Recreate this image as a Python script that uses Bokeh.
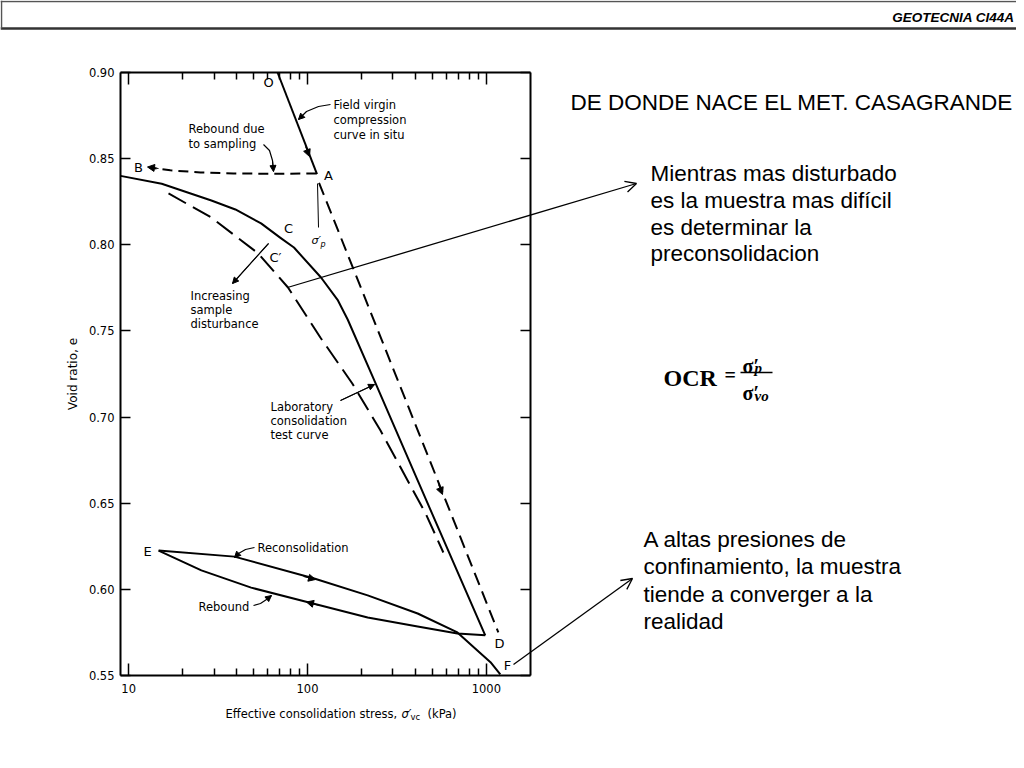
import math
from bokeh.plotting import figure
from bokeh.models import (Label, Arrow, NormalHead, OpenHead, LogAxis, LinearAxis,
                          Range1d, FixedTicker, NumeralTickFormatter, CustomJSTickFormatter)
from bokeh.embed import file_html
from bokeh.resources import INLINE

# ---------------- data ----------------
field_x = [68, 113]                 # field virgin compression curve in situ (O -> A)
field_y = [0.900, 0.841]
field_ext_x = [116, 1167]           # field curve extension (dashed, A -> D)
field_ext_y = [0.836, 0.575]
sampling_x = [112, 64.5, 38.5, 25.2, 17.1, 13.2]   # rebound due to sampling (A -> B)
sampling_y = [0.8414, 0.8412, 0.8414, 0.8420, 0.8432, 0.8448]
lab_x = [9.0, 15.3, 29, 39.5, 55, 70.6, 84, 119, 148, 168, 241, 413, 986]  # laboratory curve
lab_y = [0.8400, 0.8354, 0.8257, 0.8205, 0.8124, 0.8040, 0.7984, 0.7810, 0.7677, 0.7565,
         0.7193, 0.6632, 0.5733]
dist_x = [16.7, 29, 53, 77.8, 118, 178, 256, 363, 458, 575]  # increasing sample disturbance (C')
dist_y = [0.8298, 0.8158, 0.7950, 0.7752, 0.7462, 0.7195, 0.6922, 0.6632, 0.6440, 0.6214]
rebound_x = [986, 689, 413, 217, 102, 48.4, 25.5, 14.7]        # rebound D -> E
rebound_y = [0.5733, 0.5744, 0.5785, 0.5837, 0.5924, 0.6010, 0.6110, 0.6225]
recon_x = [14.7, 39, 109, 217, 413, 689, 891, 1055, 1197]      # reconsolidation E -> F
recon_y = [0.6225, 0.6190, 0.6063, 0.5965, 0.5860, 0.5750, 0.5645, 0.5577, 0.5506]

y_ticks = [0.55, 0.60, 0.65, 0.70, 0.75, 0.80, 0.85, 0.90]
x_major_ticks = [10, 100, 1000]
x_minor_ticks = [20, 30, 40, 50, 60, 70, 80, 90, 200, 300, 400, 500, 600, 700, 800, 900]

X_START, X_END = 9.0, 1766.0
Y_START, Y_END = 0.55, 0.90

# ---------------- layout: picture pixels of the chart box ----------------
W, H = 1016, 760
FL, FR, FT, FB = 120, 530, 72, 675


def dx(px):
    lo, hi = math.log10(X_START), math.log10(X_END)
    return 10 ** (lo + (px - FL) / (FR - FL) * (hi - lo))


def dy(py):
    return Y_END - (py - FT) / (FB - FT) * (Y_END - Y_START)


p = figure(width=W, height=H, x_axis_type="log", title=None,
           x_range=Range1d(dx(0), dx(W)), y_range=Range1d(dy(H), dy(0)),
           x_axis_location=None, y_axis_location=None,
           output_backend="svg", toolbar_location=None,
           min_border=0, min_border_left=0, min_border_right=0,
           min_border_top=0, min_border_bottom=0)
p.grid.visible = False
p.outline_line_color = None
p.background_fill_color = "white"
p.border_fill_color = "white"

CHART_FONT = "DejaVu Sans"

xt = FixedTicker(ticks=x_major_ticks, minor_ticks=x_minor_ticks)
yt = FixedTicker(ticks=y_ticks)
blank = CustomJSTickFormatter(code="return ''")

bottom = LogAxis(ticker=xt, formatter=NumeralTickFormatter(format="0"),
                 fixed_location=Y_START, bounds=(X_START, X_END))
top = LogAxis(ticker=xt, formatter=blank, fixed_location=Y_END, bounds=(X_START, X_END))
left = LinearAxis(ticker=yt, formatter=NumeralTickFormatter(format="0.00"),
                  fixed_location=X_START, bounds=(Y_START, Y_END))
right = LinearAxis(ticker=yt, formatter=blank, fixed_location=X_END, bounds=(Y_START, Y_END))
p.add_layout(bottom, "below")
p.add_layout(top, "above")
p.add_layout(left, "left")
p.add_layout(right, "right")

for ax in [bottom, top]:
    ax.major_tick_in = 12
    ax.major_tick_out = 0
    ax.minor_tick_in = 7
    ax.minor_tick_out = 0
for ax in [left, right]:
    ax.major_tick_in = 10
    ax.major_tick_out = 0
    ax.minor_tick_in = 0
    ax.minor_tick_out = 0
for ax in [bottom, top, left, right]:
    ax.axis_line_width = 2
    ax.axis_line_color = "black"
    ax.major_tick_line_width = 1.5
    ax.minor_tick_line_width = 1.5
    ax.major_tick_line_color = "black"
    ax.minor_tick_line_color = "black"
    ax.major_label_text_font = CHART_FONT
    ax.major_label_text_font_size = "11.5px"
    ax.major_label_text_color = "black"

bottom.major_label_standoff = 8
left.major_label_standoff = 6
left.axis_label = "Void ratio, e"
left.axis_label_text_font = CHART_FONT
left.axis_label_text_font_size = "12px"
left.axis_label_text_font_style = "normal"
left.axis_label_text_color = "black"
left.axis_label_standoff = 6

# ---------------- curves ----------------
p.line(field_x, field_y, line_color="black", line_width=2)
p.line(field_ext_x, field_ext_y, line_color="black", line_width=2, line_dash="13 7")
p.line(sampling_x, sampling_y, line_color="black", line_width=2, line_dash="10 6")
p.line(lab_x, lab_y, line_color="black", line_width=2, line_join="round")
p.line(dist_x, dist_y, line_color="black", line_width=2, line_dash="20 8")
p.line(rebound_x, rebound_y, line_color="black", line_width=2, line_join="round")
p.line(recon_x, recon_y, line_color="black", line_width=2, line_join="round")


# ---------------- annotation helpers ----------------
def label(px, py, text, size="11.5px", align="left", baseline="middle",
          font=CHART_FONT, style="normal"):
    p.add_layout(Label(x=dx(px), y=dy(py), text=text, text_font=font,
                       text_font_size=size, text_align=align, text_baseline=baseline,
                       text_font_style=style, text_color="black"))


def seg(x0, y0, x1, y1, width=1.2, color="black", head=None):
    p.add_layout(Arrow(x_start=dx(x0), y_start=dy(y0), x_end=dx(x1), y_end=dy(y1),
                       end=head, line_width=width, line_color=color))


def head_at(x0, y0, x1, y1, size=7):
    seg(x0, y0, x1, y1, width=1,
        head=NormalHead(size=size, fill_color="black", line_color="black", line_width=1))


def leader(pts, width=1.2):
    p.line([dx(a) for a, b in pts], [dy(b) for a, b in pts], line_color="black", line_width=width)
    (a0, b0), (a1, b1) = pts[-2], pts[-1]
    head_at(a0, b0, a1, b1, size=6)


# point letters
for cx, cy, t in [(268, 82, "O"), (328, 175, "A"), (138, 167, "B"), (288, 228, "C"),
                  (275, 257, "C\u2032"), (499, 643, "D"), (147, 551, "E"), (507, 665, "F")]:
    label(cx, cy, t, size="13px", align="center")
label(311, 240, "\u03c3\u2032", size="11px", style="italic")
label(320, 244, "p", size="8px", style="italic")

seg(317, 183, 318, 227, width=1)

# text notes in the chart
label(188, 128, "Rebound due")
label(188, 143, "to sampling")
label(333, 104, "Field virgin")
label(333, 119, "compression")
label(333, 134, "curve in situ")
label(190, 295, "Increasing")
label(190, 309, "sample")
label(190, 323, "disturbance")
label(270, 406, "Laboratory")
label(270, 420, "consolidation")
label(270, 434, "test curve")
label(257, 547, "Reconsolidation")
label(198, 606, "Rebound")

# leaders
leader([(330, 104), (318, 106), (306, 111), (298, 119)])
leader([(263, 144), (269, 150), (272, 160), (273, 171)])
leader([(268, 243), (232, 283)])
leader([(340, 400), (374, 384)])
leader([(254, 547), (245, 549), (238, 553), (234, 557)])
leader([(253, 605), (260, 603), (266, 599), (271, 595)])

# arrowheads along curves
head_at(305, 146, 309, 156)
head_at(158, 168, 147, 166.5)
head_at(303, 576, 315, 579)
head_at(319, 605, 306, 601.5)
head_at(438, 484, 442, 494)

# x axis title (with subscript)
label(225, 713, "Effective consolidation stress, ")
label(401, 713, "\u03c3\u2032", style="italic")
label(410, 716, "vc", size="8.5px")
label(427, 713, "(kPa)")

# ---------------- slide texts ----------------
SLIDE_FONT = "Liberation Sans"
label(1014, 17, "GEOTECNIA CI44A", size="13.5px", align="right", baseline="alphabetic",
      font=SLIDE_FONT, style="bold italic")
seg(0, 28, 1016, 28, width=2.5, color="#333333")
seg(1, 0, 1, 28, width=1.5, color="#555555")
seg(0, 1, 1016, 1, width=1.5, color="#555555")

label(570, 101.5, "DE DONDE NACE EL MET. CASAGRANDE", size="22.5px", baseline="alphabetic",
      font=SLIDE_FONT)
for i, t in enumerate(["Mientras mas disturbado", "es la muestra mas difícil",
                       "es determinar la", "preconsolidacion"]):
    label(650, 173.3 + 26.7 * i, t, size="22.5px", baseline="alphabetic", font=SLIDE_FONT)
for i, t in enumerate(["A altas presiones de", "confinamiento, la muestra",
                       "tiende a converger a la", "realidad"]):
    label(643, 539.3 + 27.1 * i, t, size="22.5px", baseline="alphabetic", font=SLIDE_FONT)

seg(287, 287, 636, 183, width=1.3, head=OpenHead(size=11, line_width=1.3))
seg(513, 664, 632, 578, width=1.3, head=OpenHead(size=11, line_width=1.3))

# OCR formula
SERIF = "Liberation Serif"
label(663, 377, "OCR", size="24px", baseline="alphabetic", font=SERIF, style="bold")
label(724, 374, "=", size="20px", baseline="alphabetic", font=SERIF, style="bold")
label(742, 365, "\u03c3\u2032", size="20px", baseline="alphabetic", font=SERIF, style="bold")
label(754, 367, "p", size="15px", baseline="alphabetic", font=SERIF, style="bold italic")
seg(740, 372, 772, 372, width=1.6)
label(742, 392, "\u03c3\u2032", size="20px", baseline="alphabetic", font=SERIF, style="bold")
label(754, 395, "vo", size="15px", baseline="alphabetic", font=SERIF, style="bold italic")

open("out.html", "w").write(file_html(p, INLINE))
